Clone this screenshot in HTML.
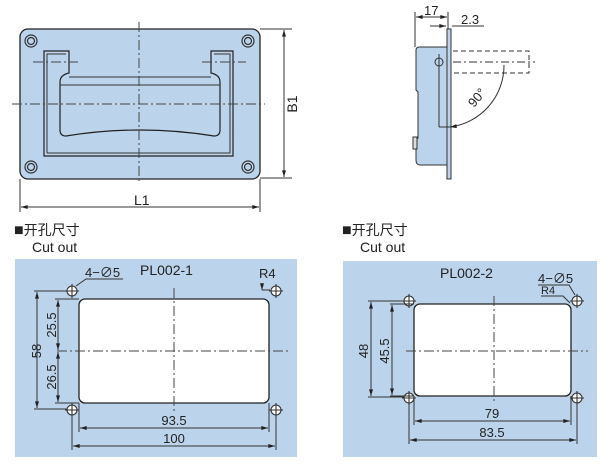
<!DOCTYPE html>
<html><head><meta charset="utf-8"><style>
html,body{margin:0;padding:0;background:#fff;}
svg{display:block;font-family:"Liberation Sans","Noto Sans CJK SC",sans-serif;}
</style></head><body>
<svg width="612" height="467" viewBox="0 0 612 467" xmlns="http://www.w3.org/2000/svg">
<defs>
<marker id="a" viewBox="0 0 10 6" refX="10" refY="3" markerWidth="8" markerHeight="4" orient="auto-start-reverse" markerUnits="userSpaceOnUse"><path d="M0,0L10,3L0,6z" fill="#222"/></marker>
</defs>
<g stroke="#333" fill="none" stroke-width="1">
<!-- top-left plate -->
<rect x="20" y="29" width="240" height="150" rx="8" fill="#bcd3ec" stroke="#222" stroke-width="1.3"/>
<path d="M44,51 H69 V73 Q60,75 60,82 V130 Q60,136 66,136 Q140,124 214,136 Q220,136 220,130 V82 Q220,75 211,73 V51 H233 V156 H44 Z" stroke="#222" stroke-width="1.2"/>
<path d="M47,153 V54 H66 M214,54 H230 V153 H47"/>
<path d="M69,77 H211 M60,85 H220"/>
<g stroke-width="1.2">
<circle cx="31" cy="41" r="6"/><circle cx="31" cy="41" r="3.5"/>
<circle cx="248" cy="41" r="6"/><circle cx="248" cy="41" r="3.5"/>
<circle cx="31" cy="167" r="6"/><circle cx="31" cy="167" r="3.5"/>
<circle cx="248" cy="167" r="6"/><circle cx="248" cy="167" r="3.5"/>
</g>
<g stroke-dasharray="10,3,2,3" stroke="#444">
<line x1="139" y1="22" x2="139" y2="184"/>
<line x1="12" y1="104" x2="265" y2="104"/>
<line x1="33" y1="62" x2="78" y2="62"/><line x1="202" y1="62" x2="246" y2="62"/>
</g>
<line x1="260" y1="29" x2="292" y2="29"/><line x1="260" y1="178" x2="292" y2="178"/>
<line x1="284" y1="30" x2="284" y2="177" marker-start="url(#a)" marker-end="url(#a)"/>
<line x1="20" y1="179" x2="20" y2="212"/><line x1="260" y1="179" x2="260" y2="212"/>
<line x1="21" y1="207" x2="259" y2="207" marker-start="url(#a)" marker-end="url(#a)"/>
<!-- side view -->
<path d="M416,50 Q416,47 420,47 H447 V165 H420 Q416,165 416,160 V140 L418,138 V92 L416,90 Z" fill="#bcd3ec" stroke="#333"/>
<rect x="413" y="137" width="4" height="12" fill="#ddd"/>
<rect x="447" y="29" width="4" height="150" fill="#bcd3ec" stroke="#333"/>
<circle cx="439" cy="62" r="4"/>
<path d="M453,51 H529 V73 H453" stroke-dasharray="5,3"/>
<line x1="453" y1="62" x2="535" y2="62" stroke-dasharray="8,3,2,3"/>
<line x1="439" y1="54" x2="439" y2="127"/>
<line x1="439" y1="127" x2="450" y2="127"/>
<path d="M504,65 A62,62 0 0 1 450,127" marker-end="url(#a)"/>
<line x1="415" y1="12" x2="415" y2="47"/><line x1="448" y1="12" x2="448" y2="29"/>
<line x1="416" y1="17" x2="447" y2="17" marker-start="url(#a)" marker-end="url(#a)"/>
<line x1="430" y1="26" x2="446" y2="26" marker-end="url(#a)"/>
<line x1="452" y1="26" x2="484" y2="26"/>
<!-- panels -->
<rect x="15" y="259" width="282" height="198" fill="#bcd3ec" stroke="none"/>
<rect x="343" y="261" width="254" height="196" fill="#bcd3ec" stroke="none"/>
<rect x="79" y="299" width="190" height="104" rx="6" fill="#fff" stroke="#222" stroke-width="1.3"/>
<rect x="414" y="304" width="157" height="92" rx="6" fill="#fff" stroke="#222" stroke-width="1.3"/>
<g stroke-dasharray="10,3,2,3" stroke="#444">
<line x1="174" y1="288" x2="174" y2="412"/><line x1="57" y1="351" x2="290" y2="351"/>
<line x1="494" y1="296" x2="494" y2="404"/><line x1="406" y1="351" x2="588" y2="351"/>
</g>
<g stroke-width="1.1">
<circle cx="72" cy="291" r="5" fill="#fff"/><circle cx="276" cy="291" r="5" fill="#fff"/>
<circle cx="72" cy="410" r="5" fill="#fff"/><circle cx="276" cy="410" r="5" fill="#fff"/>
<circle cx="409" cy="301" r="5" fill="#fff"/><circle cx="577" cy="301" r="5" fill="#fff"/>
<circle cx="409" cy="398" r="5" fill="#fff"/><circle cx="577" cy="398" r="5" fill="#fff"/>
<path d="M72,284V298M65,291H79M276,284V298M269,291H283M72,403V417M65,410H79M276,403V417M269,410H283M409,294V308M402,301H416M577,294V308M570,301H584M409,391V405M402,398H416M577,391V405M570,398H584"/>
</g>
<!-- left panel dims -->
<line x1="34" y1="291" x2="67" y2="291"/><line x1="34" y1="409" x2="67" y2="409"/>
<line x1="55" y1="299" x2="79" y2="299"/><line x1="55" y1="403" x2="79" y2="403"/>
<line x1="37" y1="292" x2="37" y2="408" marker-start="url(#a)" marker-end="url(#a)"/>
<line x1="58" y1="300" x2="58" y2="350" marker-start="url(#a)" marker-end="url(#a)"/>
<line x1="58" y1="352" x2="58" y2="402" marker-start="url(#a)" marker-end="url(#a)"/>
<line x1="79" y1="403" x2="79" y2="432"/><line x1="269" y1="403" x2="269" y2="432"/>
<line x1="72" y1="415" x2="72" y2="450"/><line x1="276" y1="415" x2="276" y2="450"/>
<line x1="80" y1="428" x2="268" y2="428" marker-start="url(#a)" marker-end="url(#a)"/>
<line x1="73" y1="446" x2="275" y2="446" marker-start="url(#a)" marker-end="url(#a)"/>
<path d="M76,286 L86,279 H123"/>
<path d="M262,283 V290" marker-end="url(#a)"/><line x1="262" y1="290" x2="270" y2="290"/>
<!-- right panel dims -->
<line x1="368" y1="301" x2="404" y2="301"/><line x1="368" y1="397" x2="404" y2="397"/>
<line x1="390" y1="304" x2="414" y2="304"/><line x1="390" y1="396" x2="414" y2="396"/>
<line x1="371" y1="302" x2="371" y2="396" marker-start="url(#a)" marker-end="url(#a)"/>
<line x1="392" y1="305" x2="392" y2="395" marker-start="url(#a)" marker-end="url(#a)"/>
<line x1="414" y1="396" x2="414" y2="425"/><line x1="571" y1="396" x2="571" y2="425"/>
<line x1="409" y1="403" x2="409" y2="444"/><line x1="577" y1="403" x2="577" y2="444"/>
<line x1="415" y1="421" x2="570" y2="421" marker-start="url(#a)" marker-end="url(#a)"/>
<line x1="410" y1="440" x2="576" y2="440" marker-start="url(#a)" marker-end="url(#a)"/>
<path d="M538,285 H569 L575,295"/><path d="M541,296 H563 L570,303"/>
</g>
<g fill="#222" font-size="13">
<text x="134" y="205" font-size="14">L1</text>
<text transform="translate(297,104) rotate(-90)" text-anchor="middle" font-size="14">B1</text>
<text x="424" y="15">17</text>
<text x="461" y="24">2.3</text>
<text transform="translate(474,108) rotate(-50)">90°</text>
<text x="14" y="235" font-size="14"><tspan font-size="16">■</tspan>开孔尺寸</text>
<text x="32" y="252" font-size="14">Cut out</text>
<text x="342" y="235" font-size="14"><tspan font-size="16">■</tspan>开孔尺寸</text>
<text x="360" y="252" font-size="14">Cut out</text>
<text x="140" y="275" font-size="14">PL002-1</text>
<text x="85" y="277">4−∅5</text>
<text x="259" y="278">R4</text>
<text transform="translate(41,351) rotate(-90)" text-anchor="middle">58</text>
<text transform="translate(56,325) rotate(-90)" text-anchor="middle">25.5</text>
<text transform="translate(56,377) rotate(-90)" text-anchor="middle">26.5</text>
<text x="174" y="425" text-anchor="middle">93.5</text>
<text x="174" y="443" text-anchor="middle">100</text>
<text x="440" y="278" font-size="14">PL002-2</text>
<text x="538" y="283">4−∅5</text>
<text x="541" y="294" font-size="11">R4</text>
<text transform="translate(368,351) rotate(-90)" text-anchor="middle">48</text>
<text transform="translate(389,351) rotate(-90)" text-anchor="middle">45.5</text>
<text x="492" y="418" text-anchor="middle">79</text>
<text x="492" y="437" text-anchor="middle">83.5</text>
</g>
</svg>
</body></html>
